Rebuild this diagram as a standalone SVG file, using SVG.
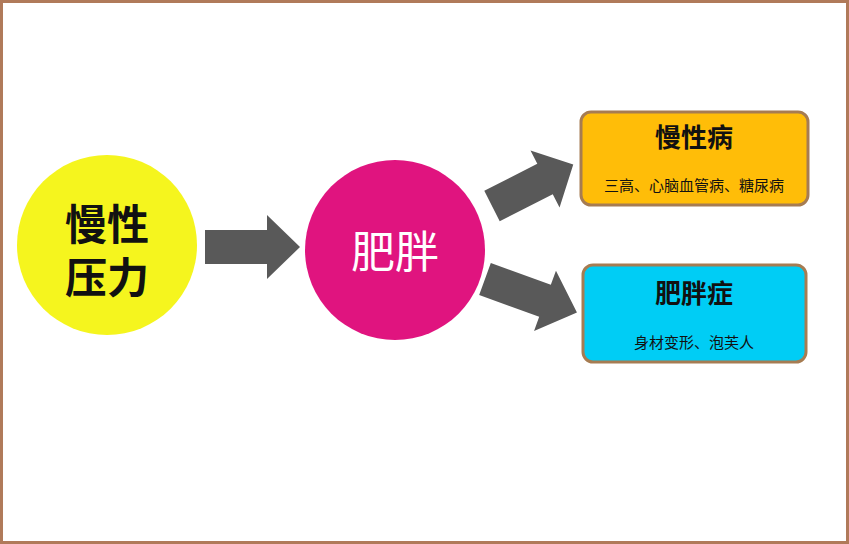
<svg xmlns="http://www.w3.org/2000/svg" width="849" height="544" viewBox="0 0 849 544">
<style>
text{font-family:"Liberation Sans","Noto Sans CJK SC",sans-serif;text-anchor:middle}
.arr{fill:#595959}
.box{stroke:#a67c52;stroke-width:3}
.t{font-weight:bold;fill:#111}
.s{font-size:15px;fill:#111}
</style>
<defs><polygon id="a" points="0,-17 62,-17 62,-32 95,0 62,32 62,17 0,17"/></defs>
<rect x="1.5" y="1.5" width="846" height="541" fill="#fff" stroke="#b07a5a" stroke-width="3"/>
<g id="connectors">
<use href="#a" class="arr" transform="translate(205,247)"/>
<use href="#a" class="arr" transform="translate(492,206) rotate(-27) scale(0.96,1)"/>
<use href="#a" class="arr" transform="translate(485,279) rotate(20) scale(1.03,1)"/>
</g>
<g id="stress"><circle cx="107" cy="245" r="90" fill="#f5f51e"/>
<text class="t" x="107" y="240" font-size="42">慢性</text>
<text class="t" x="107" y="293" font-size="42">压力</text></g>
<g id="obesity"><circle cx="395" cy="250" r="90" fill="#e0147f"/>
<text x="395" y="268" font-size="44" fill="#fff">肥胖</text></g>
<g id="chronic"><rect class="box" x="581" y="112" width="227" height="93" rx="10" fill="#ffbd08"/>
<text class="t" x="694" y="147" font-size="26">慢性病</text>
<text class="s" x="694" y="191">三高、心脑血管病、糖尿病</text></g>
<g id="obesityDisease"><rect class="box" x="583" y="265" width="223" height="97" rx="10" fill="#00cdf5"/>
<text class="t" x="694" y="303" font-size="26">肥胖症</text>
<text class="s" x="694" y="348">身材变形、泡芙人</text></g>
</svg>
